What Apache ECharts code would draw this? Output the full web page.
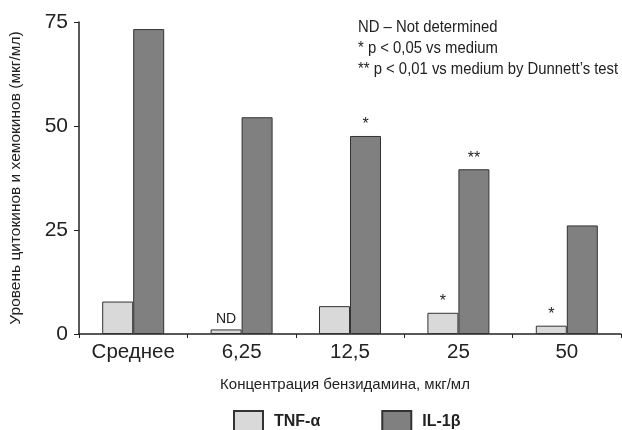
<!DOCTYPE html>
<html><head><meta charset="utf-8">
<script src="https://cdn.jsdelivr.net/npm/echarts@6/dist/echarts.min.js"></script>
<style>html,body{margin:0;padding:0;background:#fff}#c{width:622px;height:430px}</style>
</head><body><div id="c"></div>
<script>
const categories = ['Среднее', '6,25', '12,5', '25', '50'];
const tnfValues = [7.8, 1.1, 6.7, 5.1, 2.0];
const il1bValues = [73.3, 52.1, 47.6, 39.6, 26.1];
const tnfMarks = ['', 'ND', '', '*', '*'];
const il1bMarks = ['', '', '*', '**', ''];
const yTicks = [0, 25, 50, 75];
const noteLines = ['ND – Not determined', '* p < 0,05 vs medium', '** p < 0,01 vs medium by Dunnett’s test'];

const sans = '"Liberation Sans", Arial, sans-serif';
const chart = echarts.init(document.getElementById('c'));
function mk(vals, marks) {
  return vals.map((v, i) => ({
    value: v,
    label: { show: !!marks[i], formatter: marks[i], position: 'top', distance: 3,
             color: '#222', fontSize: marks[i] === 'ND' ? 14 : 16, fontFamily: sans }
  }));
}
chart.setOption({
  animation: false,
  grid: { left: 78, right: 1, top: 22, bottom: 96, containLabel: false },
  xAxis: {
    type: 'category', data: categories,
    axisLine: { lineStyle: { color: '#222', width: 1.5 } },
    axisTick: { show: true, length: 4, interval: 0, lineStyle: { color: '#222' } },
    axisLabel: { color: '#222', fontSize: 20.5, fontFamily: sans, margin: 8, interval: 0, hideOverlap: false },
    name: 'Концентрация бензидамина, мкг/мл', nameLocation: 'middle', nameGap: 43,
    nameTextStyle: { color: '#222', fontSize: 15, fontFamily: sans, padding: [0, 10, 0, 0] }
  },
  yAxis: {
    type: 'value', min: yTicks[0], max: yTicks[yTicks.length - 1], interval: 25,
    splitLine: { show: false },
    axisLine: { show: true, lineStyle: { color: '#222', width: 1.5 } },
    axisTick: { show: true, length: 5, lineStyle: { color: '#222' } },
    axisLabel: { color: '#222', fontSize: 21, fontFamily: sans, margin: 11 },
    name: 'Уровень цитокинов и хемокинов (мкг/мл)', nameLocation: 'middle', nameGap: 55, nameRotate: 90,
    nameTextStyle: { color: '#222', fontSize: 15.5, fontFamily: sans }
  },
  legend: {
    left: 228, top: 405, itemGap: 61, itemWidth: 29, itemHeight: 22,
    icon: 'rect',
    textStyle: { color: '#222', fontSize: 16, fontWeight: 'bold', fontFamily: sans, padding: [0, 0, 0, 6] },
    data: ['TNF-α', 'IL-1β']
  },
  series: [
    { name: 'TNF-α', type: 'bar', data: mk(tnfValues, tnfMarks), barWidth: 31, barGap: '0%',
      itemStyle: { color: '#d9d9d9', borderColor: '#333', borderWidth: 1 } },
    { name: 'IL-1β', type: 'bar', data: mk(il1bValues, il1bMarks), barWidth: 31, barGap: '0%',
      itemStyle: { color: '#808080', borderColor: '#333', borderWidth: 1 } }
  ],
  graphic: noteLines.map((t, i) => ({
    type: 'text', x: 358, y: 19 + i * 21, scaleX: 0.9,
    style: { text: t, fill: '#222', fontSize: 16.5, fontFamily: sans }
  }))
});
</script></body></html>
